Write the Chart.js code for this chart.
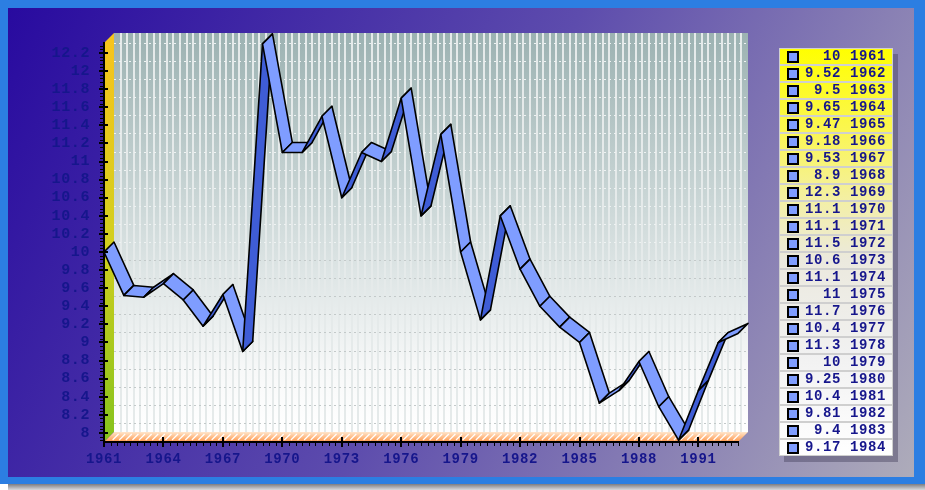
<!DOCTYPE html>
<html>
<head>
<meta charset="utf-8">
<script src="https://cdn.jsdelivr.net/npm/chart.js@4.4.1/dist/chart.umd.min.js"></script>
<style>
  html, body { margin: 0; padding: 0; background: #fff; }
</style>
</head>
<body>
<canvas id="chart" width="925" height="490"></canvas>
<script>
/* ================= DATA ================= */
const years = [1961, 1962, 1963, 1964, 1965, 1966, 1967, 1968, 1969, 1970, 1971,
  1972, 1973, 1974, 1975, 1976, 1977, 1978, 1979, 1980, 1981, 1982, 1983, 1984,
  1985, 1986, 1987, 1988, 1989, 1990, 1991, 1992, 1993];
const values = [10, 9.52, 9.5, 9.65, 9.47, 9.18, 9.53, 8.9, 12.3, 11.1, 11.1,
  11.5, 10.6, 11.1, 11, 11.7, 10.4, 11.3, 10, 9.25, 10.4, 9.81, 9.4, 9.17,
  9.0, 8.33, 8.47, 8.79, 8.29, 7.92, 8.47, 9.0, 9.1];
const yTicks = [8, 8.2, 8.4, 8.6, 8.8, 9, 9.2, 9.4, 9.6, 9.8, 10, 10.2, 10.4,
  10.6, 10.8, 11, 11.2, 11.4, 11.6, 11.8, 12, 12.2];
const xTicks = [1961, 1964, 1967, 1970, 1973, 1976, 1979, 1982, 1985, 1988, 1991];
const legendRows = 24;

/* ================= STYLE ================= */
const DEPTH = 10;
const NAVY = '#16168c';
const MONO = '"Liberation Mono", "DejaVu Sans Mono", monospace';
const X_MIN = 1961, X_MAX = 1993, Y_MIN = 7.9, Y_MAX = 12.31;

/* ================= PLUGINS ================= */
const spacing = {
    id: 'spacing',
    beforeLayout: c => { c.ctx.letterSpacing = '0.6px'; },
    beforeDraw: c => { c.ctx.letterSpacing = '0.6px'; }
};

const backdrop = {
    id: 'backdrop',
    beforeDraw(chart) {
        const { ctx, chartArea: a, scales: { x, y } } = chart;
        ctx.save();
        // page, shadow, blue frame
        ctx.fillStyle = '#ffffff';
        ctx.fillRect(0, 0, 925, 490);
        const sh = ctx.createLinearGradient(0, 483, 0, 490);
        sh.addColorStop(0, '#6e6e74');
        sh.addColorStop(1, '#d8d8dc');
        ctx.fillStyle = sh;
        ctx.fillRect(8, 483, 917, 7);
        ctx.fillStyle = '#2c7ee2';
        ctx.fillRect(0, 0, 925, 484);
        const bg = ctx.createLinearGradient(8, 8, 914, 477);
        bg.addColorStop(0, '#280a9f');
        bg.addColorStop(0.5, '#5d4cad');
        bg.addColorStop(1, '#aeacba');
        ctx.fillStyle = bg;
        ctx.fillRect(8, 8, 906, 469);

        // back wall
        const wl = a.left + DEPTH, wt = a.top - DEPTH, wb = a.bottom - DEPTH, wr = a.right + DEPTH;
        const wall = ctx.createLinearGradient(0, wt, 0, wb);
        wall.addColorStop(0, '#9cb2b2');
        wall.addColorStop(0.5, '#d3dddd');
        wall.addColorStop(0.85, '#f8f9f9');
        wall.addColorStop(1, '#ffffff');
        ctx.fillStyle = wall;
        ctx.fillRect(wl, wt, wr - wl, wb - wt);

        // vertical grid, every third of a year
        ctx.strokeStyle = '#e5eaea';
        ctx.lineWidth = 2;
        for (let k = 1; k < (X_MAX - X_MIN) * 3; k++) {
            const px = Math.round(x.getPixelForValue(X_MIN + k / 3)) + DEPTH;
            ctx.beginPath();
            ctx.moveTo(px, wt);
            ctx.lineTo(px, wb);
            ctx.stroke();
        }
        // horizontal dotted grid
        ctx.lineWidth = 1;
        ctx.setLineDash([2, 3]);
        yTicks.forEach(v => {
            const py = Math.round(y.getPixelForValue(v)) - DEPTH + 0.5;
            ctx.strokeStyle = (py - wt) / (wb - wt) < 0.55 ? '#eef2f2' : '#c3c9c9';
            ctx.beginPath();
            ctx.moveTo(wl, py);
            ctx.lineTo(wr, py);
            ctx.stroke();
        });
        ctx.setLineDash([]);

        // left wall
        const lw = ctx.createLinearGradient(0, a.top, 0, a.bottom);
        lw.addColorStop(0, '#f6c41c');
        lw.addColorStop(0.5, '#d2cf1e');
        lw.addColorStop(1, '#84c21c');
        ctx.fillStyle = lw;
        ctx.beginPath();
        ctx.moveTo(a.left, a.top);
        ctx.lineTo(wl, wt);
        ctx.lineTo(wl, wb);
        ctx.lineTo(a.left, a.bottom);
        ctx.closePath();
        ctx.fill();

        // floor
        const fl = ctx.createLinearGradient(0, wb, 0, a.bottom);
        fl.addColorStop(0, '#ffe6cc');
        fl.addColorStop(1, '#ff9548');
        ctx.fillStyle = fl;
        ctx.beginPath();
        ctx.moveTo(a.left, a.bottom);
        ctx.lineTo(a.right, a.bottom);
        ctx.lineTo(wr, wb);
        ctx.lineTo(wl, wb);
        ctx.closePath();
        ctx.fill();
        ctx.strokeStyle = '#ffffff';
        ctx.lineWidth = 1.2;
        for (let k = 1; k < (X_MAX - X_MIN) * 3; k++) {
            const px = x.getPixelForValue(X_MIN + k / 3);
            ctx.beginPath();
            ctx.moveTo(px + 2, a.bottom - 2);
            ctx.lineTo(px + DEPTH - 2, wb + 2);
            ctx.stroke();
        }
        ctx.restore();
    },
    afterDraw(chart) {
        const { ctx, chartArea: a, scales: { x, y } } = chart;
        ctx.save();
        ctx.strokeStyle = '#000';
        // y minor / major ticks
        ctx.lineWidth = 1;
        for (let k = -2; 8 + k * 0.04 <= Y_MAX; k++) {
            const py = Math.round(y.getPixelForValue(8 + k * 0.04)) + 0.5;
            ctx.beginPath();
            ctx.moveTo(a.left - 4, py);
            ctx.lineTo(a.left, py);
            ctx.stroke();
        }
        ctx.lineWidth = 2;
        yTicks.forEach(v => {
            const py = Math.round(y.getPixelForValue(v));
            ctx.beginPath();
            ctx.moveTo(a.left - 5, py);
            ctx.lineTo(a.left + 4, py);
            ctx.stroke();
        });
        // x minor / major ticks
        ctx.lineWidth = 1;
        for (let k = 0; k <= (X_MAX - X_MIN) * 3; k++) {
            const px = Math.round(x.getPixelForValue(X_MIN + k / 3)) + 0.5;
            ctx.beginPath();
            ctx.moveTo(px, a.bottom);
            ctx.lineTo(px, a.bottom + 4);
            ctx.stroke();
        }
        ctx.lineWidth = 2;
        xTicks.forEach(v => {
            const px = Math.round(x.getPixelForValue(v));
            ctx.beginPath();
            ctx.moveTo(px, a.bottom - 5);
            ctx.lineTo(px, a.bottom + 5);
            ctx.stroke();
        });
        ctx.restore();
    }
};

const ribbon = {
    id: 'ribbon',
    afterDatasetsDraw(chart) {
        const { ctx } = chart;
        const pts = chart.getDatasetMeta(0).data;
        ctx.save();
        ctx.lineWidth = 1.6;
        ctx.lineJoin = 'round';
        ctx.strokeStyle = '#000';
        for (let i = 0; i < pts.length - 1; i++) {
            const p = pts[i], q = pts[i + 1];
            const light = (q.x - p.x) + (q.y - p.y) >= 0;
            ctx.fillStyle = light ? '#7f9dff' : '#3f5dd6';
            ctx.beginPath();
            ctx.moveTo(p.x, p.y);
            ctx.lineTo(q.x, q.y);
            ctx.lineTo(q.x + DEPTH, q.y - DEPTH);
            ctx.lineTo(p.x + DEPTH, p.y - DEPTH);
            ctx.closePath();
            ctx.fill();
            ctx.stroke();
        }
        ctx.restore();
    }
};

const sideLegend = {
    id: 'sideLegend',
    afterDraw(chart) {
        const { ctx } = chart;
        const lx = 779, ly = 48, lw = 114, rh = 17;
        const lh = rh * legendRows;
        ctx.save();
        ctx.fillStyle = 'rgba(70,66,96,0.45)';
        ctx.fillRect(lx + 5, ly + 6, lw, lh);
        const g = ctx.createLinearGradient(0, ly, 0, ly + lh);
        g.addColorStop(0, '#ffff00');
        g.addColorStop(0.2, '#fbf650');
        g.addColorStop(0.38, '#f3efa8');
        g.addColorStop(0.52, '#ebe9de');
        g.addColorStop(0.75, '#f1f1f1');
        g.addColorStop(1, '#ffffff');
        ctx.fillStyle = g;
        ctx.fillRect(lx, ly, lw, lh);
        ctx.font = 'bold 14px ' + MONO;
        ctx.textAlign = 'right';
        ctx.textBaseline = 'middle';
        for (let i = 0; i < legendRows; i++) {
            const ry = ly + i * rh;
            ctx.strokeStyle = '#cfcfcf';
            ctx.lineWidth = 1;
            ctx.strokeRect(lx + 0.5, ry + 0.5, lw - 1, rh - 1);
            ctx.fillStyle = '#7f9dff';
            ctx.fillRect(lx + 9, ry + 4, 10, 10);
            ctx.strokeStyle = '#000';
            ctx.lineWidth = 2;
            ctx.strokeRect(lx + 9, ry + 4, 10, 10);
            ctx.fillStyle = NAVY;
            ctx.fillText(values[i] + ' ' + years[i], lx + 107, ry + rh / 2);
        }
        ctx.restore();
    }
};

/* ================= CHART ================= */
new Chart(document.getElementById('chart'), {
    type: 'line',
    data: {
        datasets: [{
            data: years.map((yr, i) => ({ x: yr, y: values[i] })),
            showLine: false,
            borderWidth: 0,
            pointRadius: 0
        }]
    },
    options: {
        responsive: false,
        animation: false,
        layout: { padding: { left: 44, right: 187, top: 43, bottom: 18 } },
        plugins: { legend: { display: false }, tooltip: { enabled: false } },
        scales: {
            x: {
                type: 'linear',
                min: X_MIN,
                max: X_MAX,
                afterBuildTicks: s => { s.ticks = xTicks.map(v => ({ value: v })); },
                afterFit: s => { s.height = 30; },
                grid: { display: false, drawTicks: false },
                border: { display: true, color: '#000', width: 2 },
                ticks: {
                    padding: 9,
                    color: NAVY,
                    maxRotation: 0,
                    autoSkip: false,
                    font: { family: MONO, size: 14, weight: 'bold' },
                    callback: v => String(v)
                }
            },
            y: {
                min: Y_MIN,
                max: Y_MAX,
                afterBuildTicks: s => { s.ticks = yTicks.map(v => ({ value: v })); },
                afterFit: s => { s.width = 60; },
                grid: { display: false, drawTicks: false },
                border: { display: true, color: '#000', width: 2 },
                ticks: {
                    padding: 14,
                    color: NAVY,
                    autoSkip: false,
                    font: { family: MONO, size: 15, weight: 'bold' },
                    callback: v => String(v)
                }
            }
        }
    },
    plugins: [spacing, backdrop, ribbon, sideLegend]
});
</script>
</body>
</html>
